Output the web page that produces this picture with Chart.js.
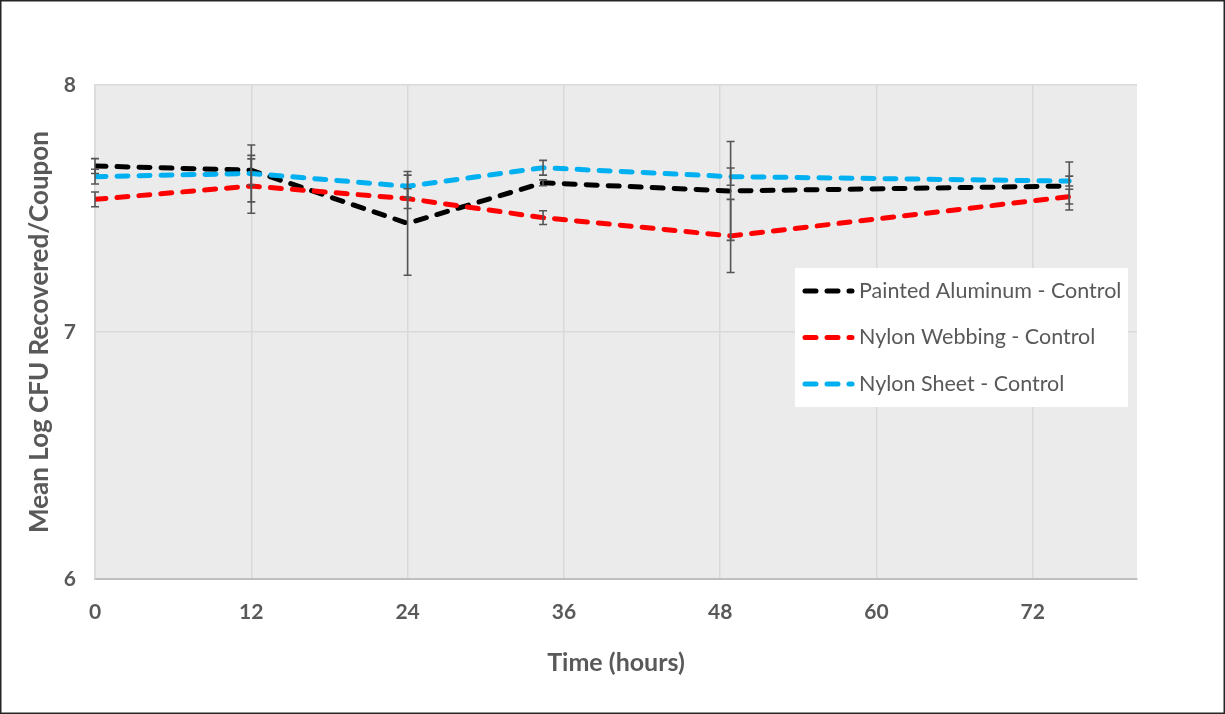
<!DOCTYPE html>
<html lang="en">
<head>
    <meta charset="UTF-8">
    <title>Mean Log CFU Recovered/Coupon - Controls</title>
    <script src="https://cdn.jsdelivr.net/npm/chart.js"></script>
    <style>
        body {
            margin: 0;
            background: #ffffff;
        }
        canvas {
            display: block;
        }
    </style>
</head>
<body>
    <canvas id="chart" width="1225" height="714"></canvas>

    <script>
        // data
        const timeHours = [0, 12, 24, 34.4, 48.8, 74.8];
        const xTicks = [0, 12, 24, 36, 48, 60, 72];
        const yTicks = [6, 7, 8];

        const seriesNames = ['Painted Aluminum - Control', 'Nylon Webbing - Control', 'Nylon Sheet - Control'];
        const paintedAluminum = [7.672, 7.655, 7.44, 7.604, 7.571, 7.591];
        const nylonWebbing = [7.537, 7.591, 7.54, 7.463, 7.389, 7.548];
        const nylonSheet = [7.629, 7.642, 7.59, 7.665, 7.629, 7.611];

        const paintedAluminumErr = [0.03, 0.06, 0.21, 0.012, 0.2, 0.097];
        const nylonWebbingErr = [0.03, 0.11, 0.04, 0.028, 0.148, 0.03];
        const nylonSheetErr = [0.03, 0.115, 0.045, 0.03, 0.035, 0.02];

        const colors = ['#000000', '#ff0000', '#00b0f0'];
        const textGray = '#595959';

        function toPoints(values) {
            return values.map((v, i) => ({ x: timeHours[i], y: v }));
        }

        const seriesValues = [paintedAluminum, nylonWebbing, nylonSheet];
        const seriesErrors = [paintedAluminumErr, nylonWebbingErr, nylonSheetErr];

        const datasets = seriesNames.map((name, i) => ({
            label: name,
            data: toPoints(seriesValues[i]),
            errors: seriesErrors[i],
            borderColor: colors[i],
            backgroundColor: colors[i],
            borderWidth: 5,
            borderDash: [11, 11],
            borderCapStyle: 'round',
            pointRadius: 0,
            tension: 0,
            fill: false,
            order: 3 - i
        }));

        // gray plot background, white page, outer frame
        const backgroundPlugin = {
            id: 'background',
            beforeDraw(chart) {
                const ctx = chart.ctx;
                const a = chart.chartArea;
                ctx.save();
                ctx.fillStyle = '#ffffff';
                ctx.fillRect(0, 0, chart.width, chart.height);
                ctx.fillStyle = '#ebebeb';
                ctx.fillRect(a.left, a.top, a.right - a.left, a.bottom - a.top);
                ctx.restore();
            },
            afterDraw(chart) {
                const ctx = chart.ctx;
                ctx.save();
                ctx.strokeStyle = '#262626';
                ctx.lineWidth = 1.5;
                ctx.strokeRect(0.75, 0.75, chart.width - 1.5, chart.height - 1.5);
                ctx.restore();
            }
        };

        // vertical error bars using the chart scales
        const errorBarPlugin = {
            id: 'errorBars',
            afterDatasetsDraw(chart) {
                const ctx = chart.ctx;
                const xs = chart.scales.x;
                const ys = chart.scales.y;
                ctx.save();
                ctx.strokeStyle = '#555555';
                ctx.lineWidth = 1.6;
                chart.data.datasets.forEach(ds => {
                    ds.data.forEach((p, i) => {
                        const e = ds.errors[i];
                        const x = xs.getPixelForValue(p.x);
                        const y1 = ys.getPixelForValue(p.y + e);
                        const y2 = ys.getPixelForValue(p.y - e);
                        ctx.beginPath();
                        ctx.moveTo(x, y1);
                        ctx.lineTo(x, y2);
                        ctx.moveTo(x - 4, y1);
                        ctx.lineTo(x + 4, y1);
                        ctx.moveTo(x - 4, y2);
                        ctx.lineTo(x + 4, y2);
                        ctx.stroke();
                    });
                });
                ctx.restore();
            }
        };

        // legend box inside the plot area
        const legendBoxPlugin = {
            id: 'legendBox',
            afterDraw(chart) {
                const ctx = chart.ctx;
                const left = 795, top = 268, width = 333, height = 139;
                ctx.save();
                ctx.fillStyle = '#ffffff';
                ctx.fillRect(left, top, width, height);
                ctx.font = '21.5px Lato';
                ctx.textBaseline = 'middle';
                chart.data.datasets.forEach((ds, i) => {
                    const y = top + 23 + i * 46.5;
                    ctx.strokeStyle = ds.borderColor;
                    ctx.lineWidth = 5;
                    ctx.lineCap = 'round';
                    ctx.setLineDash([11, 11]);
                    ctx.beginPath();
                    ctx.moveTo(805, y);
                    ctx.lineTo(852, y);
                    ctx.stroke();
                    ctx.setLineDash([]);
                    ctx.fillStyle = textGray;
                    ctx.fillText(ds.label, 859, y);
                });
                ctx.restore();
            }
        };

        new Chart(document.getElementById('chart'), {
            type: 'line',
            data: { datasets: datasets },
            options: {
                responsive: false,
                animation: false,
                layout: { padding: { left: 0, right: 88, top: 85, bottom: 0 } },
                plugins: {
                    legend: { display: false },
                    tooltip: { enabled: false }
                },
                scales: {
                    x: {
                        type: 'linear',
                        min: 0,
                        max: 80,
                        afterBuildTicks: scale => { scale.ticks = xTicks.map(v => ({ value: v })); },
                        afterFit: scale => { scale.height = 135; },
                        grid: { color: '#d9d9d9', lineWidth: 1.5, drawTicks: false },
                        border: { color: '#bfbfbf', width: 2 },
                        ticks: {
                            padding: 21,
                            color: textGray,
                            font: { family: 'Lato', size: 21, weight: 'bold' },
                            maxRotation: 0
                        },
                        title: {
                            display: true,
                            text: 'Time (hours)',
                            color: textGray,
                            font: { family: 'Lato', size: 25, weight: 'bold' },
                            padding: { top: 0, bottom: 36 }
                        }
                    },
                    y: {
                        min: 6,
                        max: 8,
                        afterBuildTicks: scale => { scale.ticks = yTicks.map(v => ({ value: v })); },
                        afterFit: scale => { scale.width = 95; },
                        grid: { color: '#d9d9d9', lineWidth: 1.5, drawTicks: false },
                        border: { color: '#d9d9d9', width: 1.5 },
                        ticks: {
                            padding: 19,
                            color: textGray,
                            font: { family: 'Lato', size: 21, weight: 'bold' }
                        },
                        title: {
                            display: true,
                            text: 'Mean Log CFU Recovered/Coupon',
                            color: textGray,
                            font: { family: 'Lato', size: 26, weight: 'bold' },
                            padding: { top: 24, bottom: 0 }
                        }
                    }
                }
            },
            plugins: [backgroundPlugin, errorBarPlugin, legendBoxPlugin]
        });
    </script>
</body>
</html>
